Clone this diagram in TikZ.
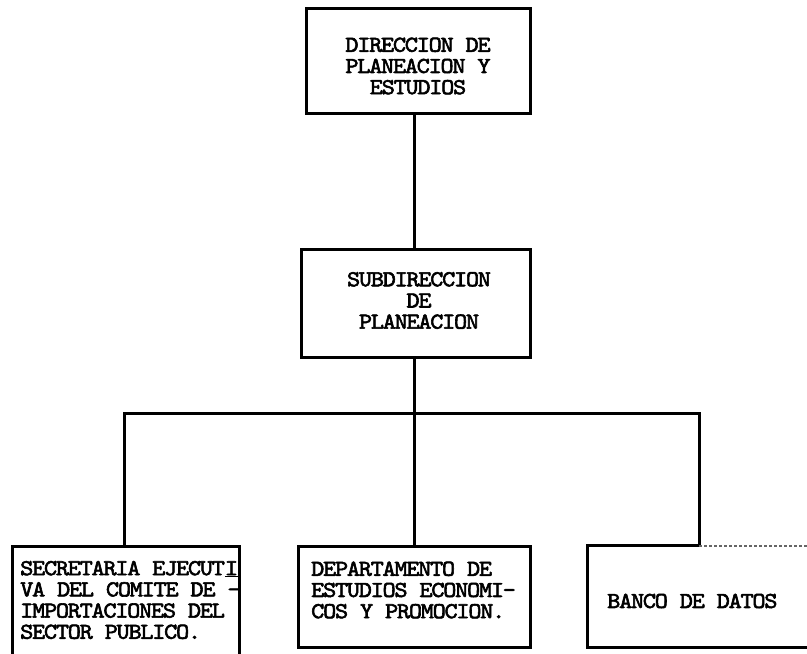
\documentclass[tikz,border=0pt]{standalone}
\usepackage{fontspec}
\newfontfamily\typewriter{lmmono10-regular.otf}[FakeBold=2.5, FakeStretch=1.1, LetterSpace=-5.6]
\begin{document}
\begin{tikzpicture}[x=1pt,y=-1pt,
  box/.style={draw=black, line width=3pt, rectangle, inner sep=0pt},
  frame/.style={rectangle, inner sep=0pt},
  link/.style={draw=black, line width=3pt},
  lbl/.style={font=\typewriter\fontsize{22.8}{21.2}\selectfont, inner sep=0pt, align=center},
  lbll/.style={lbl, align=left, anchor=west}]
\useasboundingbox (0,0) rectangle (807,654);
\clip (0,0) rectangle (807,654);
\fill[white] (0,0) rectangle (807,654);

% bus positions of the connectors
\coordinate (busc) at (414,413);
\coordinate (busl) at (124,413);
\coordinate (busr) at (699,413);

% boxes
\node[box, minimum width=224pt, minimum height=105pt] (dir) at (418,60.5) {};
\node[box, minimum width=229pt, minimum height=108pt] (sub) at (415.5,303) {};
\node[box, minimum width=227pt, minimum height=124pt] (sec) at (125.5,608) {};
\node[box, minimum width=232pt, minimum height=101pt] (dep) at (414,596.5) {};
\node[frame, minimum width=242pt, minimum height=101pt] (ban) at (709,596.5) {};

% texts
\node[lbl] (dirt) at (418,66) {DIRECCION DE\\PLANEACION Y\\ESTUDIOS};
\node[lbl] (subt) at (419,300.5) {SUBDIRECCION\\DE\\PLANEACION};
\node[lbll] (sect) at (20,600) {SECRETARIA EJECUT\underline{I}\\VA DEL COMITE DE -\\IMPORTACIONES DEL\\SECTOR PUBLICO.};
\node[lbll] (dept) at (311,590) {DEPARTAMENTO DE\\ESTUDIOS ECONOMI-\\COS Y PROMOCION.};
\node[lbll] (bant) at (607,601) {BANCO DE DATOS};

% connectors
\draw[link] (dir.south -| busc) -- (sub.north -| busc);
\draw[link] (sub.south -| busc) -- (busc);
\draw[link] (sec.north -| busl) -- (busl) -- (busr) -- (ban.north -| busr);
\draw[link] (busc) -- (dep.north -| busc);

% open frame of the last box
\draw[link] (ban.north -| busr) -- (ban.north west) -- (ban.south west) -- (ban.south east);
\draw[line width=1.4pt, densely dashed, black!60] (ban.north -| busr) -- (ban.north east);
\end{tikzpicture}
\end{document}
